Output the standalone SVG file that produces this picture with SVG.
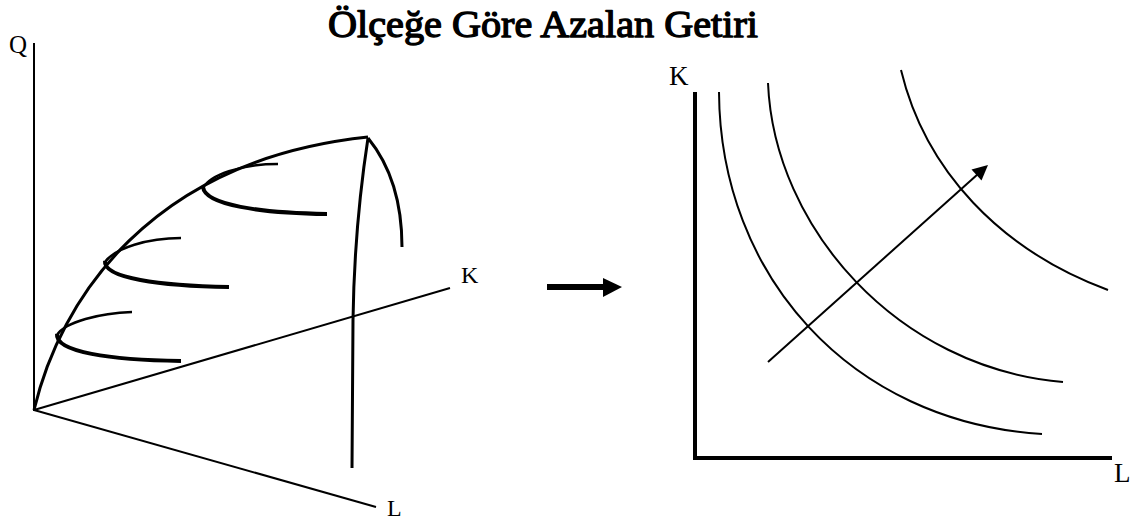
<svg xmlns="http://www.w3.org/2000/svg" width="1131" height="522" viewBox="0 0 1131 522">
<style>
.lbl{font-family:"Liberation Serif","Times New Roman",serif;fill:#000}
.ttl{font-family:"Liberation Serif","Times New Roman",serif;fill:#000;stroke:#000;stroke-width:1.3;stroke-linejoin:round}
.ax{stroke:#000;stroke-width:2;fill:none}
.env{stroke:#000;stroke-width:3;fill:none}
.up{stroke:#000;stroke-width:2.5;fill:none;stroke-linecap:butt}
.lo{stroke:#000;stroke-width:4;fill:none}
.iso{stroke:#000;stroke-width:2;fill:none}
.head{fill:#000;stroke:none}
</style>
<rect width="1131" height="522" fill="#fff"/>
<text class="ttl" x="328" y="37" font-size="37" textLength="430" lengthAdjust="spacingAndGlyphs">Ölçeğe Göre Azalan Getiri</text>

<g id="left-3d">
<g id="axes-3d">
<line class="ax" x1="34" y1="43" x2="34" y2="411"/>
<line class="ax" x1="34" y1="410" x2="450" y2="288"/>
<line class="ax" x1="34" y1="410" x2="376" y2="507"/>
<text class="lbl" x="9" y="53" font-size="25">Q</text>
<text class="lbl" x="461" y="283" font-size="24">K</text>
<text class="lbl" x="387" y="516" font-size="24">L</text>
</g>
<g id="surface">
<path class="env" d="M34,410 C60,300 150,160 368,137"/>
<path class="env" d="M368,138 C360,190 354,250 353,320 L352,468"/>
<path class="env" d="M368,138 C390,165 402,200 402,247"/>
</g>
<g id="isoquant-top">
<path class="up" d="M278,164 C240,164 210,175 203,188"/>
<path class="lo" d="M203,187 C205,205 260,213 327,214"/>
</g>
<g id="isoquant-mid">
<path class="up" d="M181,238 C148,238 115,248 105,262"/>
<path class="lo" d="M105,261 C103,278 160,286 229,287"/>
</g>
<g id="isoquant-low">
<path class="up" d="M132,312 C100,313 65,322 57,335"/>
<path class="lo" d="M57,334 C55,352 110,360 181,361"/>
</g>
</g>

<g id="connectors">
<line x1="547" y1="287" x2="605" y2="287" stroke="#000" stroke-width="6"/>
<polygon class="head" points="603,278 622,287 603,297"/>
<line x1="768" y1="362" x2="978" y2="174" stroke="#000" stroke-width="2"/>
<polygon class="head" points="988,165 981.5,180.6 971.5,169.4"/>
</g>

<g id="right-2d">
<g id="axes-2d">
<polyline points="695,92 695,458 1112,458" fill="none" stroke="#000" stroke-width="4"/>
<text class="lbl" x="669" y="85" font-size="27">K</text>
<text class="lbl" x="1114" y="482" font-size="27">L</text>
</g>
<g id="isoquant-1"><path class="iso" d="M719,92 C720,275 850,422 1042,434"/></g>
<g id="isoquant-2"><path class="iso" d="M768,83 C774,228 898,368 1063,382"/></g>
<g id="isoquant-3"><path class="iso" d="M901,70 C925,170 1000,250 1108,290"/></g>
</g>
</svg>
